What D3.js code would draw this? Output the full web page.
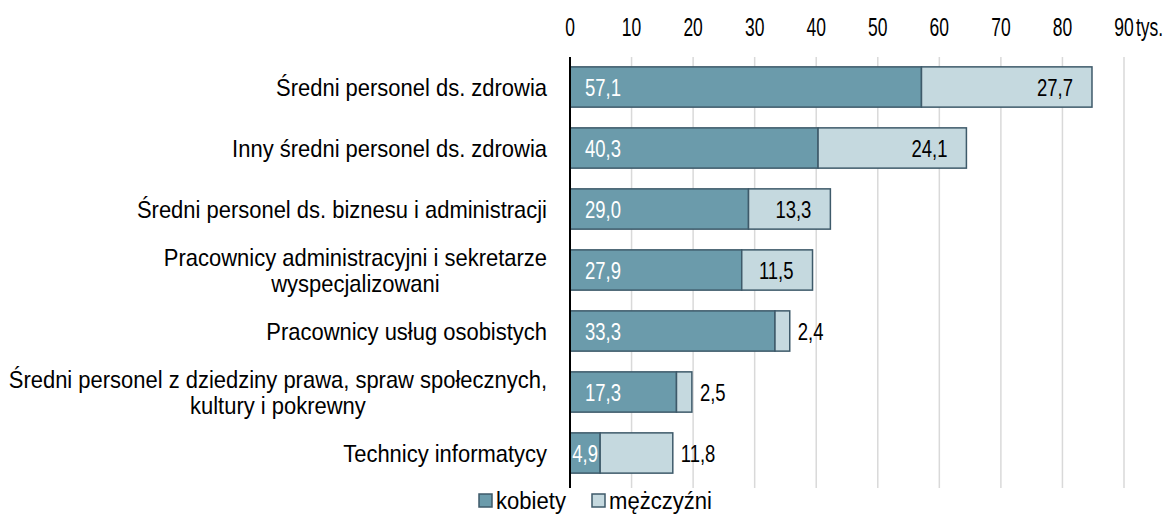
<!DOCTYPE html>
<html>
<head>
<meta charset="utf-8">
<script src="https://cdn.jsdelivr.net/npm/d3@7"></script>
<style>
  body { margin: 0; background: #fff; }
  svg { display: block; font-family: "Liberation Sans", Arial, sans-serif; }
</style>
</head>
<body>
<svg width="1170" height="514"></svg>
<script>
// kategorie (od góry) - etykiety wielowierszowe rozbite na linie
const categories = [
  ["Średni personel ds. zdrowia"],
  ["Inny średni personel ds. zdrowia"],
  ["Średni personel ds. biznesu i administracji "],
  ["Pracownicy administracyjni i sekretarze", "wyspecjalizowani"],
  ["Pracownicy usług osobistych"],
  ["Średni personel z dziedziny prawa, spraw społecznych,", "kultury i pokrewny"],
  ["Technicy informatycy"]
];
const kobiety = [57.1, 40.3, 29.0, 27.9, 33.3, 17.3, 4.9];
const mezczyzni = [27.7, 24.1, 13.3, 11.5, 2.4, 2.5, 11.8];
// czy etykieta mężczyzn stoi za słupkiem
const labelOutside = [false, false, false, false, true, true, true];
const ticks = [0, 10, 20, 30, 40, 50, 60, 70, 80, 90];
const seriesNames = ["kobiety", "mężczyźni"];

const colDark = "#6b9bab";
const colLight = "#c5d9df";
const colStroke = "#3e5a6a";

const fmt = v => d3.format(".1f")(v).replace(".", ",");

// tekst zwężony (czcionka w oryginale jest wąska)
function narrowText(sel, px, py, size, sx, anchor, txt, fill) {
  return sel.append("text")
    .attr("transform", `translate(${px},${py}) scale(${sx},1)`)
    .attr("font-size", size).attr("text-anchor", anchor)
    .attr("fill", fill || "#000").text(txt);
}

const svg = d3.select("svg");
const x = d3.scaleLinear().domain([0, 90]).range([570, 1124]);
const y = d3.scaleBand().domain(d3.range(categories.length))
  .range([56.5, 483.5]).paddingInner(0.34).paddingOuter(0.17);

// siatka
svg.append("g").selectAll("line").data(ticks.slice(1)).enter().append("line")
  .attr("x1", d => x(d)).attr("x2", d => x(d))
  .attr("y1", 57).attr("y2", 488)
  .attr("stroke", "#d9d9d9").attr("stroke-width", 1.5);

// oś górna - etykiety
const axisG = svg.append("g");
ticks.forEach(t => narrowText(axisG, x(t), 36, 25, 0.7, "middle", t));
narrowText(axisG, x(90) + 12, 36, 25, 0.7, "start", "tys.");

const rows = svg.append("g").selectAll("g").data(categories).enter().append("g");

// słupki kobiety
rows.append("rect")
  .attr("x", x(0)).attr("y", (d, i) => y(i))
  .attr("width", (d, i) => x(kobiety[i]) - x(0)).attr("height", y.bandwidth())
  .attr("fill", colDark).attr("stroke", colStroke).attr("stroke-width", 1.5);
// słupki mężczyźni
rows.append("rect")
  .attr("x", (d, i) => x(kobiety[i])).attr("y", (d, i) => y(i))
  .attr("width", (d, i) => x(kobiety[i] + mezczyzni[i]) - x(kobiety[i])).attr("height", y.bandwidth())
  .attr("fill", colLight).attr("stroke", colStroke).attr("stroke-width", 1.5);

rows.each(function (lines, i) {
  const g = d3.select(this);
  const cy = y(i) + y.bandwidth() / 2;
  const base = cy + 8.5;

  // wartości kobiety
  const wK = x(kobiety[i]) - x(0);
  if (wK < 60) narrowText(g, x(kobiety[i] / 2), base, 24, 0.77, "middle", fmt(kobiety[i]), "#fff");
  else narrowText(g, x(0) + 15, base, 24, 0.77, "start", fmt(kobiety[i]), "#fff");

  // wartości mężczyźni
  const end = x(kobiety[i] + mezczyzni[i]);
  if (labelOutside[i]) narrowText(g, end + 8, base, 24, 0.77, "start", fmt(mezczyzni[i]));
  else narrowText(g, end - 19, base, 24, 0.77, "end", fmt(mezczyzni[i]));

  // etykiety kategorii
  const lh = 26;
  const sx = 0.915;
  if (lines.length === 1) {
    narrowText(g, 547, base, 24, sx, "end", lines[0]);
  } else {
    const texts = lines.map((ln, k) =>
      narrowText(g, 0, base + (k - (lines.length - 1) / 2) * lh, 24, sx, "middle", ln));
    const w = d3.max(texts, t => t.node().getComputedTextLength()) * sx;
    texts.forEach((t, k) =>
      t.attr("transform", `translate(${547 - w / 2},${base + (k - (lines.length - 1) / 2) * lh}) scale(${sx},1)`));
  }
});

// oś pionowa
svg.append("line").attr("x1", x(0)).attr("x2", x(0)).attr("y1", 57).attr("y2", 488)
  .attr("stroke", "#000").attr("stroke-width", 2);

// legenda
const legend = svg.append("g").attr("transform", "translate(0,501)");
const legX = [479, 592];
seriesNames.forEach((name, i) => {
  legend.append("rect").attr("x", legX[i]).attr("y", -7).attr("width", 13).attr("height", 13)
    .attr("fill", i === 0 ? colDark : colLight).attr("stroke", colStroke).attr("stroke-width", 1.5);
  narrowText(legend, legX[i] + 17, 8, 24, 0.92, "start", name);
});
</script>
</body>
</html>
